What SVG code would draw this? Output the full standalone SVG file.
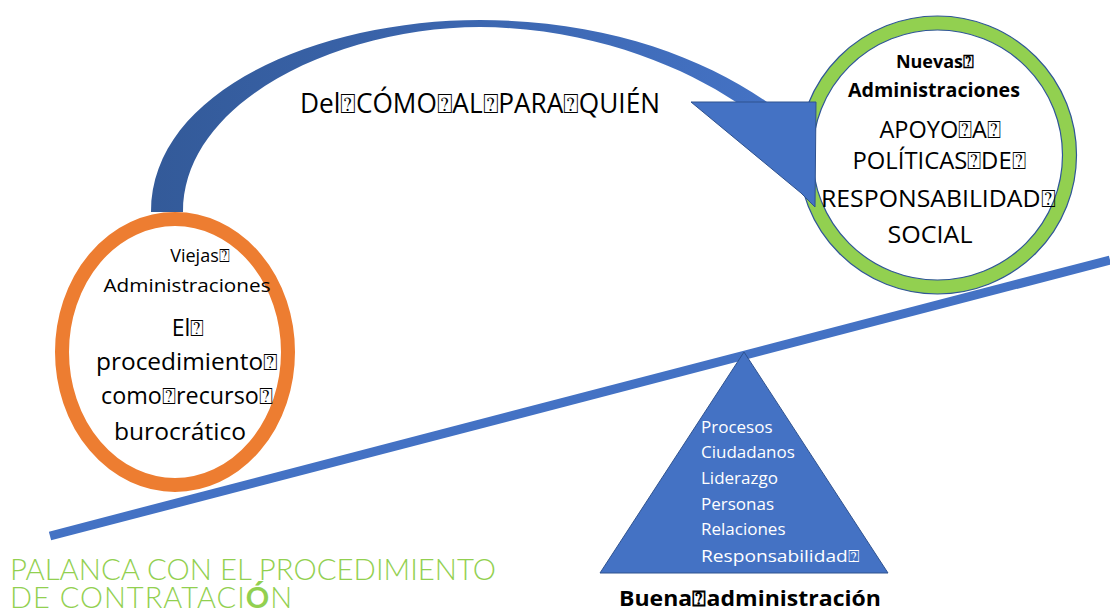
<svg xmlns="http://www.w3.org/2000/svg" width="1110" height="612" viewBox="0 0 1110 612">
<defs>
<linearGradient id="arcg" x1="0" y1="0" x2="1" y2="0">
<stop offset="0" stop-color="#335A99"/>
<stop offset="1" stop-color="#4472C4"/>
</linearGradient>
<style>
.t{font-family:"Open Sans","Noto Sans","DejaVu Sans",sans-serif;fill:#000}
.b{font-weight:bold}
.w{fill:#fff}
.g{font-family:Lato,"Open Sans",sans-serif;font-weight:300;fill:#92D050}
</style>
</defs>
<rect width="1110" height="612" fill="#fff"/>
<g id="viejas">
<ellipse cx="175" cy="352" rx="113" ry="133" fill="#fff" stroke="#ED7D31" stroke-width="14"/>
<text class="t" x="200" y="262" font-size="18" text-anchor="middle">Viejas⍰</text>
<text class="t" x="187" y="292" font-size="18" text-anchor="middle" textLength="167" lengthAdjust="spacingAndGlyphs">Administraciones</text>
<text class="t" x="188" y="336" font-size="23" text-anchor="middle">El⍰</text>
<text class="t" x="187" y="370" font-size="23" text-anchor="middle" textLength="182" lengthAdjust="spacingAndGlyphs">procedimiento⍰</text>
<text class="t" x="187" y="404" font-size="23" text-anchor="middle" textLength="172" lengthAdjust="spacingAndGlyphs">como⍰recurso⍰</text>
<text class="t" x="180" y="440" font-size="23" text-anchor="middle" textLength="132" lengthAdjust="spacingAndGlyphs">burocrático</text>
</g>
<g id="connectors">
<line id="lever" x1="50" y1="536" x2="1110" y2="260" stroke="#4472C4" stroke-width="9"/>
</g>
<g id="nuevas">
<circle cx="937.5" cy="155" r="132" fill="#fff" stroke="#92D050" stroke-width="14"/>
<circle cx="937.5" cy="155" r="139" fill="none" stroke="#2F5597" stroke-width="1.2"/>
<circle cx="937.5" cy="155" r="125" fill="none" stroke="#2F5597" stroke-width="1.2"/>
<text class="t b" x="935" y="68" font-size="18" text-anchor="middle">Nuevas⍰</text>
<text class="t b" x="934" y="97" font-size="19" text-anchor="middle" textLength="172" lengthAdjust="spacingAndGlyphs">Administraciones</text>
<text class="t" x="940" y="138" font-size="24" text-anchor="middle" textLength="121" lengthAdjust="spacingAndGlyphs">APOYO⍰A⍰</text>
<text class="t" x="939" y="169" font-size="24" text-anchor="middle" textLength="173" lengthAdjust="spacingAndGlyphs">POLÍTICAS⍰DE⍰</text>
<text class="t" x="938" y="207" font-size="24" text-anchor="middle" textLength="234" lengthAdjust="spacingAndGlyphs">RESPONSABILIDAD⍰</text>
<text class="t" x="930" y="243" font-size="24" text-anchor="middle" textLength="85" lengthAdjust="spacingAndGlyphs">SOCIAL</text>
</g>
<g id="arrow">
<path id="arc" d="M151,212 C151,90 320,20 480,20 C600,20 700,55 767,102 L736,102 C680,65 590,28 480,27 C340,27 183,100 183,212 Z" fill="url(#arcg)"/>
<polygon points="691,102 816,102 815,207 801,193" fill="#4472C4" stroke="#2F528F" stroke-width="1"/>
</g>
<text class="t" x="300" y="113" font-size="27" textLength="360" lengthAdjust="spacingAndGlyphs">Del⍰CÓMO⍰AL⍰PARA⍰QUIÉN</text>
<g id="buena">
<polygon points="744,352 888,573 600,573" fill="#4472C4" stroke="#2F528F" stroke-width="1"/>
<text class="t w" x="701" y="433" font-size="17">Procesos</text>
<text class="t w" x="701" y="458" font-size="17">Ciudadanos</text>
<text class="t w" x="701" y="484" font-size="17">Liderazgo</text>
<text class="t w" x="701" y="510" font-size="17">Personas</text>
<text class="t w" x="701" y="535" font-size="17">Relaciones</text>
<text class="t w" x="701" y="562" font-size="17" textLength="158" lengthAdjust="spacingAndGlyphs">Responsabilidad⍰</text>
<text class="t b" x="750" y="606" font-size="21" text-anchor="middle" textLength="262" lengthAdjust="spacingAndGlyphs">Buena⍰administración</text>
</g>
<g id="titulo">
<text class="g" x="10" y="580" font-size="29" textLength="486" lengthAdjust="spacingAndGlyphs">PALANCA  CON EL PROCEDIMIENTO</text>
<text class="g" x="10" y="608" font-size="29" letter-spacing="1">DE CONTRATACI<tspan font-weight="bold">Ó</tspan>N</text>
</g>
</svg>
